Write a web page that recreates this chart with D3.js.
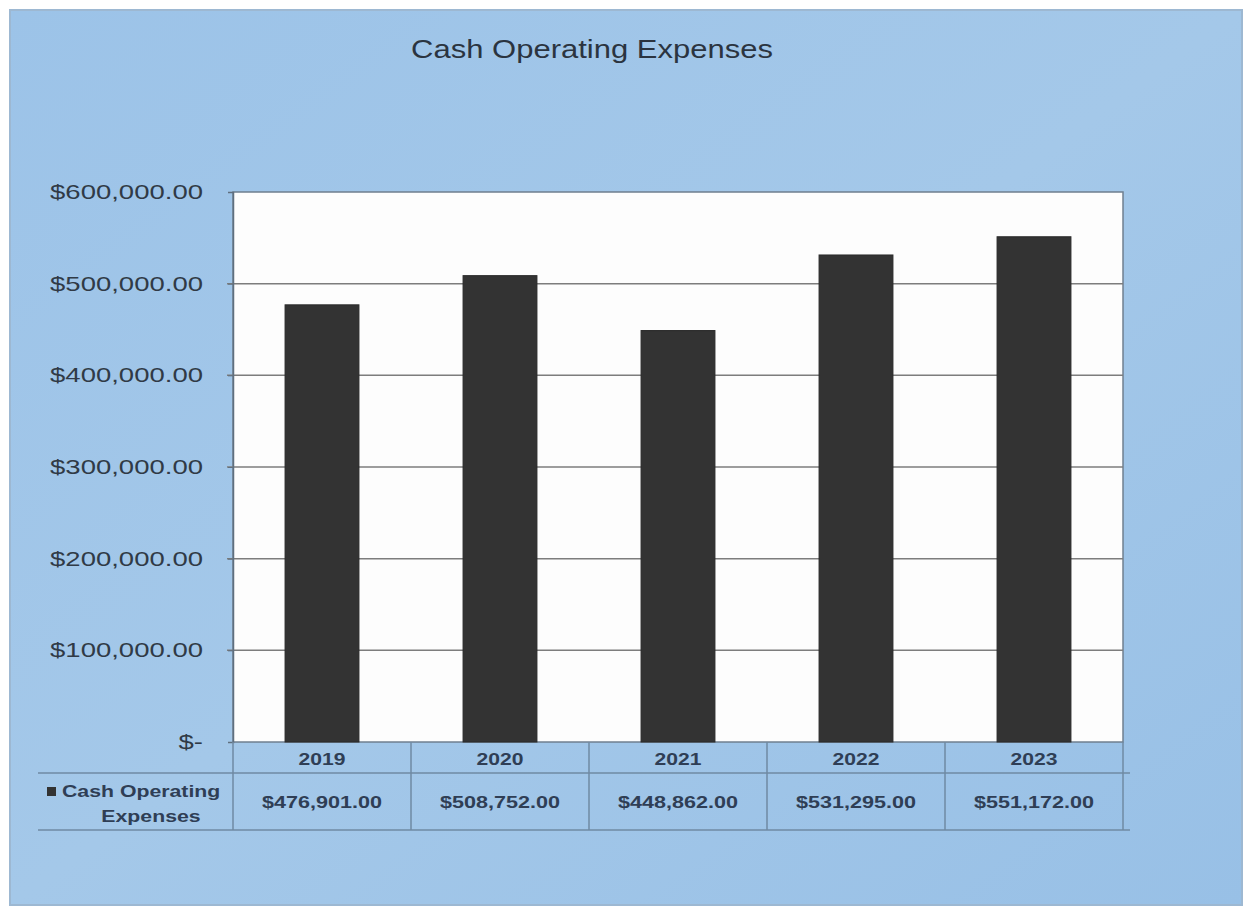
<!DOCTYPE html>
<html><head><meta charset="utf-8">
<script src="https://cdn.jsdelivr.net/npm/d3@7"></script>
<style>body{margin:0;background:#fff;}svg{display:block;font-family:"Liberation Sans",Arial,sans-serif;}</style>
</head><body>
<svg id="c" width="1251" height="909"></svg>
<script>
const title = "Cash Operating Expenses";
const seriesName = ["Cash Operating", "Expenses"];
const categories = ["2019","2020","2021","2022","2023"];
const values = [476901, 508752, 448862, 531295, 551172];
const yTicks = [0,100000,200000,300000,400000,500000,600000];

const svg = d3.select("#c");
const defs = svg.append("defs");
const g1 = defs.append("linearGradient").attr("id","bg").attr("x1","0").attr("y1","0").attr("x2","1").attr("y2","1");
g1.append("stop").attr("offset","0").attr("stop-color","#9cc3e8");
g1.append("stop").attr("offset","0.5").attr("stop-color","#a4c8e9");
g1.append("stop").attr("offset","1").attr("stop-color","#98c0e6");

svg.append("rect").attr("x",10).attr("y",10).attr("width",1232).attr("height",895)
  .attr("fill","url(#bg)").attr("stroke","#9db8d2").attr("stroke-width",2);

const m = {l:233, r:1123, t:192, b:742};
const x = d3.scaleBand().domain(categories).range([m.l,m.r]).paddingInner(0.585).paddingOuter(0.2925);
const y = d3.scaleLinear().domain([0,600000]).range([m.b,m.t]);

// stretched text helper (reference text is horizontally stretched)
function stext(parent, tx, ty, str, size, sx, anchor, weight, fill){
  return parent.append("text")
    .attr("transform",`translate(${tx},${ty}) scale(${sx},1)`)
    .attr("text-anchor",anchor).attr("font-size",size)
    .attr("font-weight",weight).attr("fill",fill).text(str);
}

stext(svg, 592, 58, title, 25, 1.24, "middle", "normal", "#2b3440");

// plot area
svg.append("rect").attr("x",m.l).attr("y",m.t).attr("width",m.r-m.l).attr("height",m.b-m.t)
  .attr("fill","#fdfdfd").attr("stroke","#6f7f8f").attr("stroke-width",1.5);

// gridlines
svg.append("g").selectAll("line").data(yTicks.filter(d=>d>0 && d<600000)).join("line")
  .attr("x1",m.l-6).attr("x2",m.r).attr("y1",d=>y(d)).attr("y2",d=>y(d))
  .attr("stroke","#7d7d7d").attr("stroke-width",1.5);

// y axis
const fmt = d => d===0 ? "$-" : "$" + d3.format(",.2f")(d);
const ya = svg.append("g").attr("transform",`translate(${m.l},0)`)
  .call(d3.axisLeft(y).tickValues(yTicks).tickFormat("").tickSize(5));
ya.select(".domain").attr("stroke","#5f6f7f").attr("stroke-width",1.5);
ya.selectAll(".tick line").attr("stroke","#5f6f7f");
const yl = svg.append("g");
yTicks.forEach(t => stext(yl, 203, y(t)+7, fmt(t), 21, 1.31, "end", "normal", "#303a46"));

// bars
svg.append("g").selectAll("rect").data(values).join("rect")
  .attr("x",(d,i)=>x(categories[i])).attr("width",x.bandwidth())
  .attr("y",d=>y(d)).attr("height",d=>y(0)-y(d))
  .attr("fill","#333333").attr("stroke","#2a2a2a");

// data table
const rowTop = 742, rowMid = 773, rowBot = 830;
const step = (m.r - m.l)/categories.length;
const tbl = svg.append("g").attr("stroke","#6f8aa3").attr("stroke-width",1.5);
tbl.append("line").attr("x1",m.l).attr("x2",1130).attr("y1",rowMid).attr("y2",rowMid);
tbl.append("line").attr("x1",38).attr("x2",m.l).attr("y1",rowMid).attr("y2",rowMid);
tbl.append("line").attr("x1",38).attr("x2",1130).attr("y1",rowBot).attr("y2",rowBot);
tbl.selectAll(".v").data(d3.range(categories.length+1)).join("line")
  .attr("x1",i=>m.l+i*step).attr("x2",i=>m.l+i*step).attr("y1",rowTop).attr("y2",rowBot);

const tg = svg.append("g");
categories.forEach((c,i) => {
  const cx = x(c)+x.bandwidth()/2;
  stext(tg, cx, 765, c, 16, 1.32, "middle", "bold", "#2f3e55");
  stext(tg, cx, 808, "$"+d3.format(",.2f")(values[i]), 16, 1.35, "middle", "bold", "#2f3e55");
});

// legend key
svg.append("rect").attr("x",47).attr("y",787).attr("width",9).attr("height",9).attr("fill","#333");
stext(svg, 62, 797, seriesName[0], 16, 1.33, "start", "bold", "#2f3e55");
stext(svg, 151, 822, seriesName[1], 16, 1.33, "middle", "bold", "#2f3e55");
</script>
</body></html>
